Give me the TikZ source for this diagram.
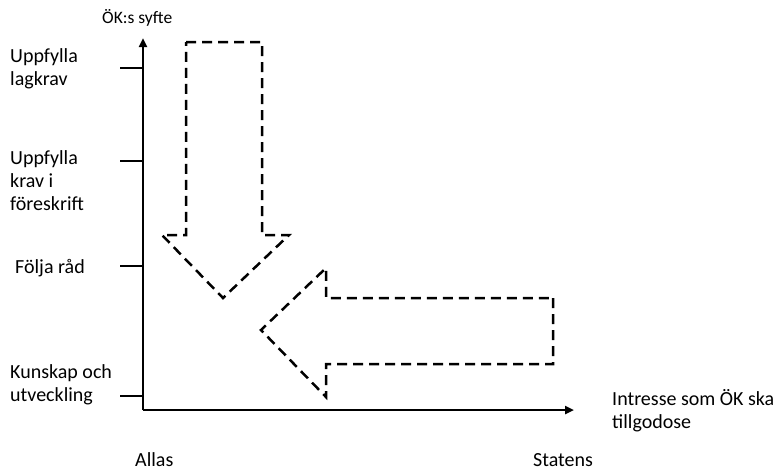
\documentclass[tikz,border=0pt]{standalone}
\usepackage{fontspec}
\setmainfont{Carlito}
\usetikzlibrary{arrows.meta}
\begin{document}
\begin{tikzpicture}[x=1pt,y=-1pt,
  lbl/.style={anchor=base west,inner sep=0pt,align=left,font=\fontsize{20}{23}\selectfont},
  small/.style={anchor=base west,inner sep=0pt,font=\fontsize{17.5}{20}\selectfont},
  axis/.style={line width=2.6pt,-{Triangle[length=9pt,width=8pt]}},
  tick/.style={line width=2pt},
  dasharrow/.style={line width=2.5pt,dash pattern=on 10pt off 6pt,line join=miter}]
\useasboundingbox (0,0) rectangle (778,472);
% axes
\coordinate (O) at (143,410);
\coordinate (Ytop) at (143,38);
\coordinate (Xend) at (574,410);
\draw[axis] (O) -- (Ytop);
\draw[axis] (O) -- (Xend);
% ticks
\coordinate (t1) at (143,68); \coordinate (t1l) at (120,68);
\coordinate (t2) at (143,161); \coordinate (t2l) at (120,161);
\coordinate (t3) at (143,266); \coordinate (t3l) at (120,266);
\coordinate (t4) at (143,396); \coordinate (t4l) at (120,396);
\draw[tick] (t1l) -- (t1);
\draw[tick] (t2l) -- (t2);
\draw[tick] (t3l) -- (t3);
\draw[tick] (t4l) -- (t4);
% labels
\node[small] (title) at (102,23) {ÖK:s syfte};
\node[lbl] (l1) at (10,85) {Uppfylla\\lagkrav};
\node[lbl] (l2) at (10,210) {Uppfylla\\krav i\\föreskrift};
\node[lbl] (l3) at (15,273) {Följa råd};
\node[lbl] (l4) at (10,401) {Kunskap och\\utveckling};
\node[lbl] (xl) at (612,428) {Intresse som ÖK ska\\tillgodose};
\node[lbl] (allas) at (135,466) {Allas};
\node[lbl] (statens) at (533,466) {Statens};
% down arrow
\draw[dasharrow] (186,42) -- (262,42) -- (262,235) -- (289,235) -- (223,298) -- (162,235) -- (186,235) -- cycle;
% left arrow
\draw[dasharrow] (553,298) -- (553,364) -- (326,364) -- (326,397) -- (261,330) -- (326,268) -- (326,298) -- cycle;
\end{tikzpicture}
\end{document}
